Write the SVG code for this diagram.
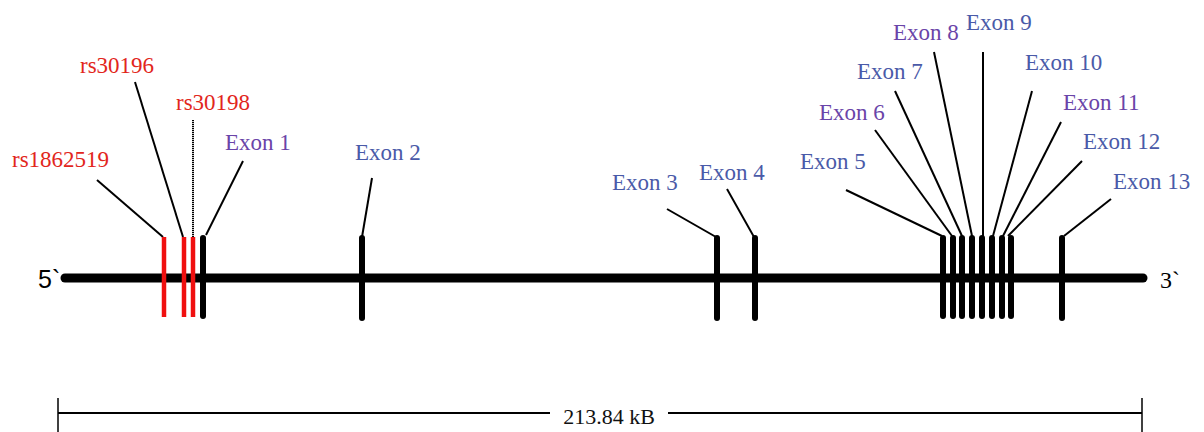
<svg xmlns="http://www.w3.org/2000/svg" width="1204" height="432" viewBox="0 0 1204 432">
<style>
.lbl{font-family:"Liberation Serif",serif;font-size:23px}
.blue{fill:#4a5aa8}
.purp{fill:#6a44a8}
.red{fill:#e2261c}
.lead{stroke:#000;stroke-width:2;fill:none}
.bar{stroke:#000;stroke-width:6;stroke-linecap:round}
.rbar{stroke:#f01010;stroke-width:4.5}
</style>
<rect width="1204" height="432" fill="#fff"/>
<g id="backbone">
<line x1="65" y1="278" x2="1143" y2="278" stroke="#000" stroke-width="9" stroke-linecap="round"/>
<text x="38" y="288" font-family="'Liberation Sans',sans-serif" font-size="25" fill="#000">5`</text>
<text x="1160" y="288" font-family="'Liberation Serif',serif" font-size="24" fill="#000">3`</text>
</g>
<g id="connectors">
<line class="lead" x1="97" y1="180" x2="163" y2="237"/>
<line class="lead" x1="135" y1="82" x2="183" y2="237"/>
<line class="lead" x1="193" y1="120" x2="193" y2="237" stroke-width="2.5" stroke-dasharray="1.2 0.8"/>
<line class="lead" x1="243" y1="161" x2="206" y2="235"/>
<line class="lead" x1="372" y1="178" x2="362" y2="237"/>
<line class="lead" x1="667" y1="209" x2="716" y2="237"/>
<line class="lead" x1="727" y1="189" x2="754" y2="237"/>
<line class="lead" x1="846" y1="190" x2="942" y2="236"/>
<line class="lead" x1="875" y1="130" x2="952" y2="236"/>
<line class="lead" x1="895" y1="91" x2="962" y2="236"/>
<line class="lead" x1="934" y1="52" x2="972" y2="236"/>
<line class="lead" x1="983" y1="52" x2="983" y2="236"/>
<line class="lead" x1="1032" y1="91" x2="993" y2="236"/>
<line class="lead" x1="1061" y1="122" x2="1003" y2="236"/>
<line class="lead" x1="1082" y1="161" x2="1008" y2="236"/>
<line class="lead" x1="1111" y1="199" x2="1064" y2="236"/>
</g>
<g id="rs1862519"><line class="rbar" x1="164" y1="237" x2="164" y2="317"/><text class="lbl red" x="12" y="167">rs1862519</text></g>
<g id="rs30196"><line class="rbar" x1="184" y1="237" x2="184" y2="317"/><text class="lbl red" x="80" y="73">rs30196</text></g>
<g id="rs30198"><line class="rbar" x1="193" y1="237" x2="193" y2="317"/><text class="lbl red" x="176" y="110">rs30198</text></g>
<g id="exon1"><line class="bar" x1="203" y1="238" x2="203" y2="316"/><text class="lbl purp" x="225" y="150">Exon 1</text></g>
<g id="exon2"><line class="bar" x1="362" y1="238" x2="362" y2="318"/><text class="lbl blue" x="355" y="160">Exon 2</text></g>
<g id="exon3"><line class="bar" x1="717" y1="238" x2="717" y2="318"/><text class="lbl blue" x="612" y="190">Exon 3</text></g>
<g id="exon4"><line class="bar" x1="755" y1="238" x2="755" y2="318"/><text class="lbl blue" x="699" y="180">Exon 4</text></g>
<g id="exon5"><line class="bar" x1="943" y1="238" x2="943" y2="316"/><text class="lbl blue" x="800" y="169">Exon 5</text></g>
<g id="exon6"><line class="bar" x1="953" y1="238" x2="953" y2="316"/><text class="lbl purp" x="819" y="120">Exon 6</text></g>
<g id="exon7"><line class="bar" x1="962" y1="238" x2="962" y2="316"/><text class="lbl blue" x="857" y="79">Exon 7</text></g>
<g id="exon8"><line class="bar" x1="972" y1="238" x2="972" y2="316"/><text class="lbl purp" x="893" y="40">Exon 8</text></g>
<g id="exon9"><line class="bar" x1="982" y1="238" x2="982" y2="316"/><text class="lbl blue" x="966" y="30">Exon 9</text></g>
<g id="exon10"><line class="bar" x1="992" y1="238" x2="992" y2="316"/><text class="lbl blue" x="1025" y="70">Exon 10</text></g>
<g id="exon11"><line class="bar" x1="1002" y1="238" x2="1002" y2="316"/><text class="lbl purp" x="1063" y="110">Exon 11</text></g>
<g id="exon12"><line class="bar" x1="1011" y1="238" x2="1011" y2="316"/><text class="lbl blue" x="1083" y="149">Exon 12</text></g>
<g id="exon13"><line class="bar" x1="1062" y1="238" x2="1062" y2="318"/><text class="lbl blue" x="1113" y="189">Exon 13</text></g>
<g id="scale">
<line x1="58" y1="398" x2="58" y2="432" stroke="#000" stroke-width="1.5"/>
<line x1="1142" y1="398" x2="1142" y2="432" stroke="#000" stroke-width="1.5"/>
<line x1="58" y1="413" x2="550" y2="413" stroke="#000" stroke-width="2"/>
<line x1="668" y1="413" x2="1142" y2="413" stroke="#000" stroke-width="2"/>
<text x="609" y="424" text-anchor="middle" font-family="'Liberation Serif',serif" font-size="22" fill="#111">213.84 kB</text>
</g>
</svg>
